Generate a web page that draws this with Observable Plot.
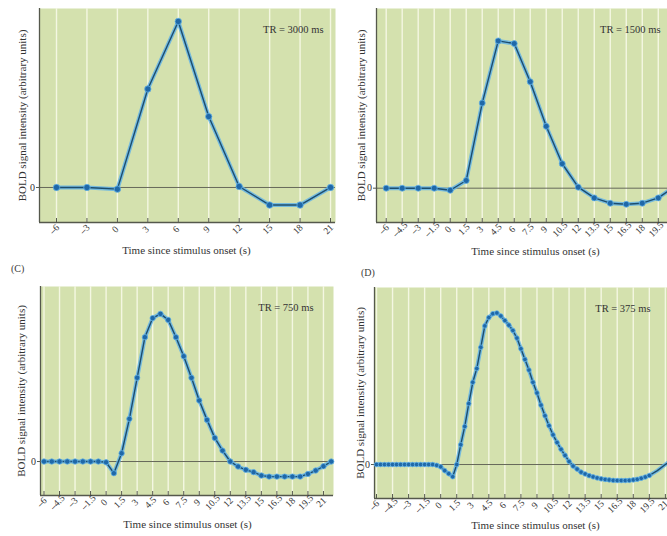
<!DOCTYPE html>
<html><head><meta charset="utf-8">
<script src="https://cdn.jsdelivr.net/npm/d3@7"></script>
<script src="https://cdn.jsdelivr.net/npm/@observablehq/plot@0.6"></script>
<style>
html,body{margin:0;padding:0;background:#fff;overflow:hidden}
#fig{position:relative;width:667px;height:536px;overflow:hidden;font-family:"Liberation Serif",serif;background:#fff}
.panel{position:absolute}
.panel svg{max-width:none !important}
.tag{position:absolute;font-size:10px;color:#3a3a3a;font-family:"Liberation Serif",serif}
</style></head><body><div id="fig"></div>
<script>
// ---- text ----
const xTitle = "Time since stimulus onset (s)";
const yTitle = "BOLD signal intensity (arbitrary units)";
const trLabels = ["TR = 3000 ms", "TR = 1500 ms", "TR = 750 ms", "TR = 375 ms"];
const panelTags = ["(C)", "(D)"];

// ---- tick values / labels ----
const ticks3 = [-6, -3, 0, 3, 6, 9, 12, 15, 18, 21];
const tickLabels3 = ["\u20136", "\u20133", "0", "3", "6", "9", "12", "15", "18", "21"];
const ticks15 = [-6, -4.5, -3, -1.5, 0, 1.5, 3, 4.5, 6, 7.5, 9, 10.5, 12, 13.5, 15, 16.5, 18, 19.5, 21];
const tickLabels15 = ["\u20136", "\u20134.5", "\u20133", "\u20131.5", "0", "1.5", "3", "4.5", "6", "7.5", "9", "10.5", "12", "13.5", "15", "16.5", "18", "19.5", "21"];

// ---- data (BOLD signal, arbitrary units; peak ~ 1) ----
// A: TR = 3 s
const timeA = [-6, -3, 0, 3, 6, 9, 12, 15, 18, 21];
const boldA = [0, 0, -0.01, 0.593, 1.0, 0.427, 0.006, -0.106, -0.106, 0];
// B: TR = 1.5 s
const timeB = d3.range(19).map(i => -6 + i * 1.5);
const boldB = [0, 0, 0, 0, -0.014, 0.052, 0.578, 1.0, 0.982, 0.723, 0.42, 0.166, 0.007, -0.066, -0.102, -0.109, -0.102, -0.066, 0.01];
// C: TR = 0.75 s
const timeC = d3.range(38).map(i => -6 + i * 0.75);
const boldC = [0, 0, 0, 0, 0, 0, 0, 0,
  -0.005, -0.079, 0.056, 0.289, 0.567, 0.842, 0.971, 1.0, 0.959, 0.842, 0.713, 0.567, 0.413, 0.282, 0.16, 0.074, 0.0,
  -0.034, -0.056, -0.072, -0.095, -0.102, -0.102, -0.102, -0.102, -0.102, -0.084, -0.061, -0.032, 0.0];
// D: TR = 0.375 s
const timeD = d3.range(69).map(i => -6 + i * 0.375);
const boldD = [0, 0, 0, 0, 0, 0, 0, 0, 0, 0, 0, 0, 0, 0, 0,
  -0.005, -0.015, -0.04, -0.06, -0.08, 0.0, 0.13, 0.25, 0.40, 0.54,
  0.63, 0.77, 0.91, 0.965, 0.99, 0.995, 0.975, 0.945, 0.915, 0.88,
  0.83, 0.76, 0.69, 0.62, 0.54, 0.47, 0.39, 0.32, 0.255, 0.195,
  0.145, 0.10, 0.06, 0.02, -0.01, -0.03, -0.05, -0.062, -0.073, -0.081,
  -0.088, -0.094, -0.098, -0.101, -0.104, -0.105, -0.105, -0.105, -0.104, -0.101,
  -0.097, -0.09, -0.082, -0.072];
const tailTimeD = [20.25, 21, 21.75];
const tailBoldD = [-0.04, 0.0, 0.04];

// ---- style ----
const BG = "#d4e1ae", GRID = "#f4f7e2", ZERO = "#66685a", AXIS = "#55584c";
const HALO = "#63b3e6", CORE = "#1c4d6e", DOT = "#1f68a8", TEXT = "#333";

function panel(p) {
  const fh = p.height - p.mt - p.mb;
  const [y0, y1] = p.yDomain;
  const tickLen = (y1 - y0) * 4 / fh;
  const pts = p.t.map((t, i) => ({t, v: p.v[i]}));
  const linePts = pts.concat(p.tailT ? p.tailT.map((t, i) => ({t, v: p.tailV[i]})) : []);
  const tickData = p.ticks.map((t, i) => ({t, label: p.labels[i]}));
  return Plot.plot({
    width: p.width, height: p.height,
    marginLeft: p.ml, marginRight: p.mr, marginTop: p.mt, marginBottom: p.mb,
    x: {domain: p.xDomain, axis: null},
    y: {domain: p.yDomain, axis: null},
    style: {fontFamily: "'Liberation Serif', serif", background: "transparent", overflow: "visible", maxWidth: "none"},
    marks: [
      Plot.frame({fill: BG, stroke: null}),
      Plot.ruleX(p.ticks, {stroke: GRID, strokeWidth: 1.4}),
      Plot.ruleY([0], {stroke: ZERO, strokeWidth: 1}),
      Plot.ruleX([p.xDomain[0]], {stroke: AXIS, strokeWidth: 1.3}),
      Plot.ruleY([y0], {stroke: AXIS, strokeWidth: 1.3}),
      Plot.ruleX(p.ticks, {y1: y0, y2: y0 + tickLen, stroke: AXIS, strokeWidth: 1}),
      Plot.axisY({ticks: [0], tickSize: 3, tickPadding: 1.5, fontSize: 10, label: null, tickFormat: () => "0", stroke: AXIS, fill: TEXT}),
      Plot.line(linePts, {x: "t", y: "v", stroke: HALO, strokeWidth: 4, strokeOpacity: 0.85}),
      Plot.line(linePts, {x: "t", y: "v", stroke: CORE, strokeWidth: 1.4}),
      Plot.dot(pts, {x: "t", y: "v", r: p.r, fill: DOT, stroke: HALO, strokeWidth: 0.8}),
      Plot.text(tickData, {x: "t", text: "label", frameAnchor: "bottom", dy: 9, rotate: -45, fontSize: 9.5, fill: TEXT}),
      Plot.text([p.tr], {frameAnchor: "top-left", dx: p.trDx, dy: 17, textAnchor: "end", fontSize: 10.5, fill: TEXT}),
      Plot.text([xTitle], {frameAnchor: "bottom-left", dx: p.xlDx, dy: p.xlDy, textAnchor: "middle", fontSize: 11, fill: TEXT}),
      Plot.text([yTitle], {frameAnchor: "left", dx: p.ylDx, rotate: -90, textAnchor: "middle", fontSize: 11, fill: TEXT})
    ]
  });
}

const fig = document.getElementById("fig");
const panels = [
  {left: 0, top: 0, width: 340, height: 262, ml: 39, mr: 5, mt: 8, mb: 40,
   xDomain: [-7.675, 21.49], yDomain: [-0.211, 1.078], t: timeA, v: boldA, r: 3.2,
   ticks: ticks3, labels: tickLabels3, tr: trLabels[0], trDx: 284, xlDx: 147, xlDy: 31, ylDx: -17},
  {left: 340, top: 0, width: 344, height: 262, ml: 36, mr: 5, mt: 8, mb: 40,
   xDomain: [-6.909, 21.49], yDomain: [-0.233, 1.22], t: timeB, v: boldB, r: 3,
   ticks: ticks15, labels: tickLabels15, tr: trLabels[1], trDx: 284, xlDx: 159, xlDy: 32, ylDx: -15.5},
  {left: 0, top: 260, width: 340, height: 276, ml: 40, mr: 7, mt: 26, mb: 41,
   xDomain: [-6.338, 21.97], yDomain: [-0.23, 1.185], t: timeC, v: boldC, r: 2.7,
   ticks: ticks15, labels: tickLabels15, tr: trLabels[2], trDx: 273, xlDx: 147, xlDy: 32, ylDx: -19.5},
  {left: 340, top: 260, width: 335, height: 276, ml: 34, mr: 5, mt: 27, mb: 38,
   xDomain: [-6.187, 21.48], yDomain: [-0.223, 1.162], t: timeD, v: boldD, r: 2.3,
   tailT: tailTimeD, tailV: tailBoldD,
   ticks: ticks15, labels: tickLabels15, tr: trLabels[3], trDx: 276, xlDx: 161, xlDy: 30, ylDx: -14.5}
];
for (const p of panels) {
  const div = document.createElement("div");
  div.className = "panel";
  div.style.left = p.left + "px";
  div.style.top = p.top + "px";
  div.style.width = p.width + "px";
  div.appendChild(panel(p));
  fig.appendChild(div);
}
const tagPos = [[11, 263], [361, 267]];
panelTags.forEach((s, i) => {
  const d = document.createElement("div");
  d.className = "tag";
  d.textContent = s;
  d.style.left = tagPos[i][0] + "px";
  d.style.top = tagPos[i][1] + "px";
  fig.appendChild(d);
});
</script></body></html>
